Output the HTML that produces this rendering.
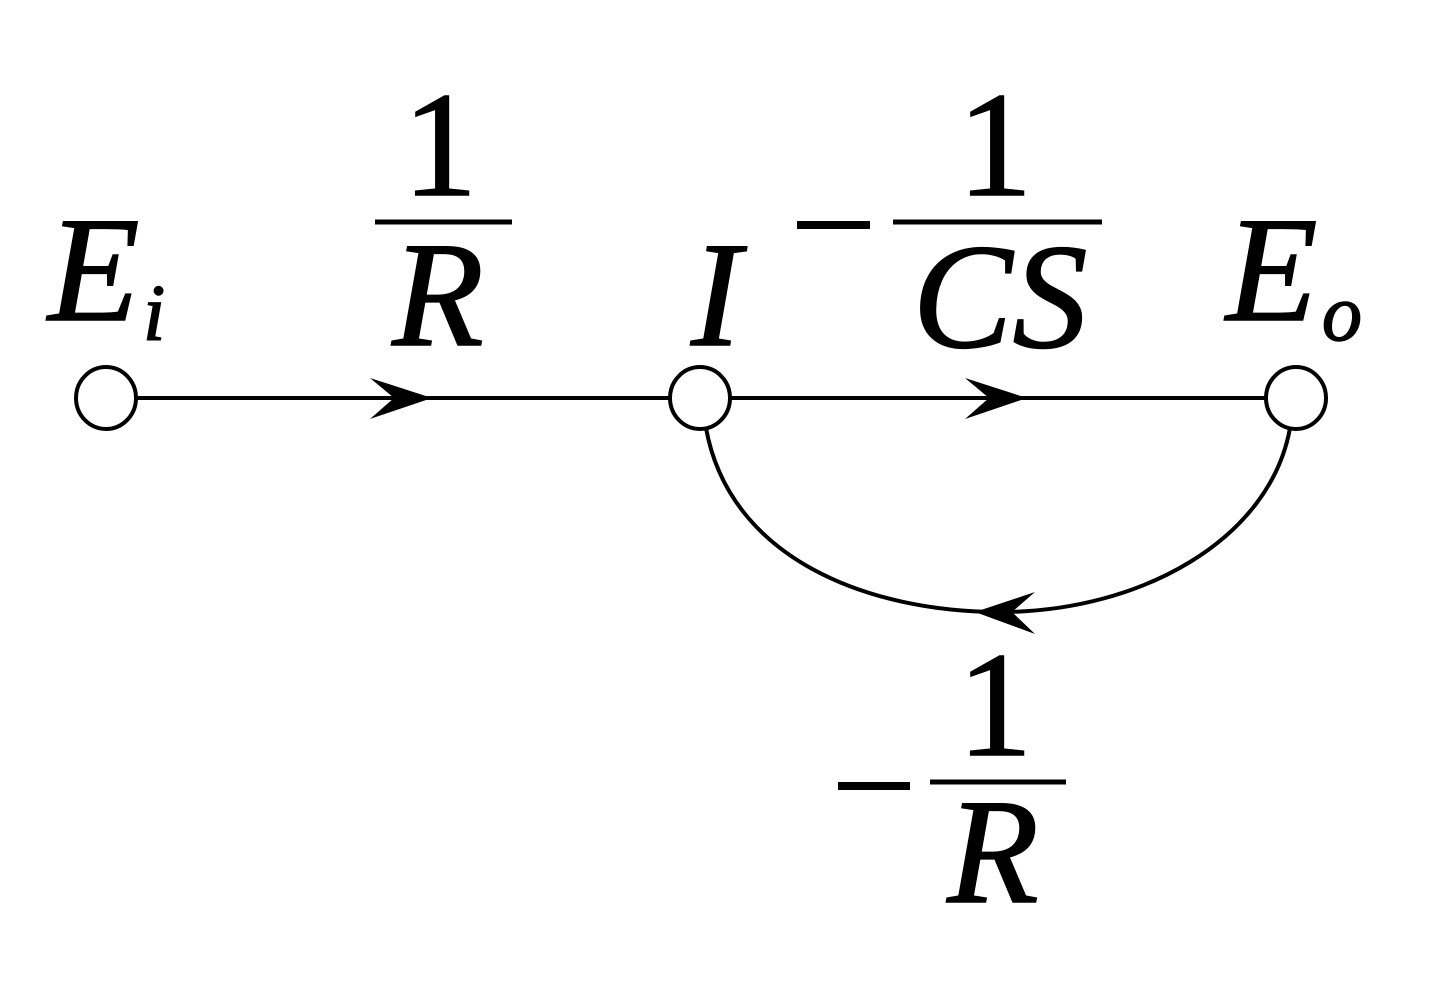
<!DOCTYPE html>
<html><head><meta charset="utf-8"><style>
html,body{margin:0;padding:0;background:#fff;}
svg{display:block;}
.t{font-family:"Liberation Serif","DejaVu Serif","Times New Roman",serif;}
</style></head><body>
<svg width="1441" height="1000" viewBox="0 0 1441 1000" xmlns="http://www.w3.org/2000/svg">
<g stroke="#000" stroke-width="4" fill="none">
<line x1="136" y1="398" x2="670" y2="398"/>
<line x1="730" y1="398" x2="1266" y2="398"/>
<path d="M706,428 C730,560 870,612 1000,612 C1140,612 1270,540 1290,428"/>
<ellipse cx="106" cy="398" rx="30" ry="31" fill="#fff"/>
<ellipse cx="700" cy="398" rx="30" ry="31" fill="#fff"/>
<ellipse cx="1296" cy="398" rx="30" ry="31" fill="#fff"/>
</g>
<g fill="#000">
<path d="M432,398 L370,378 L394,398 L370,419 Z"/>
<path d="M1027,398 L965,378 L989,398 L965,419 Z"/>
<path d="M975,612 L1035,592 L1012,612 L1035,634 Z"/>
</g>
<g stroke="#000" stroke-width="5">
<line x1="375" y1="222" x2="512" y2="222"/>
<line x1="893" y1="222" x2="1102" y2="222"/>
<line x1="930" y1="782" x2="1066" y2="782"/>
<line x1="797" y1="225" x2="870" y2="225" stroke-width="8"/>
<line x1="838" y1="786" x2="910" y2="786" stroke-width="8"/>
</g>
<g class="t" fill="#000" stroke="#000" stroke-width="1.5">
<text class="t" x="48" y="320" font-size="150" font-style="italic">E</text>
<text class="t" x="143" y="340" font-size="80" font-style="italic">i</text>
<text class="t" x="440" y="195" font-size="150" text-anchor="middle">1</text>
<text class="t" x="438" y="345" font-size="150" font-style="italic" text-anchor="middle">R</text>
<text class="t" x="716" y="345" font-size="150" font-style="italic" text-anchor="middle">I</text>
<text class="t" x="995" y="195" font-size="150" text-anchor="middle">1</text>
<text class="t" x="1000" y="347" font-size="150" font-style="italic" text-anchor="middle">CS</text>
<text class="t" x="1226" y="320" font-size="150" font-style="italic">E</text>
<text class="t" x="1322" y="340" font-size="80" font-style="italic">o</text>
<text class="t" x="995" y="755" font-size="150" text-anchor="middle">1</text>
<text class="t" x="993" y="902" font-size="150" font-style="italic" text-anchor="middle">R</text>
</g>
</svg>
</body></html>
